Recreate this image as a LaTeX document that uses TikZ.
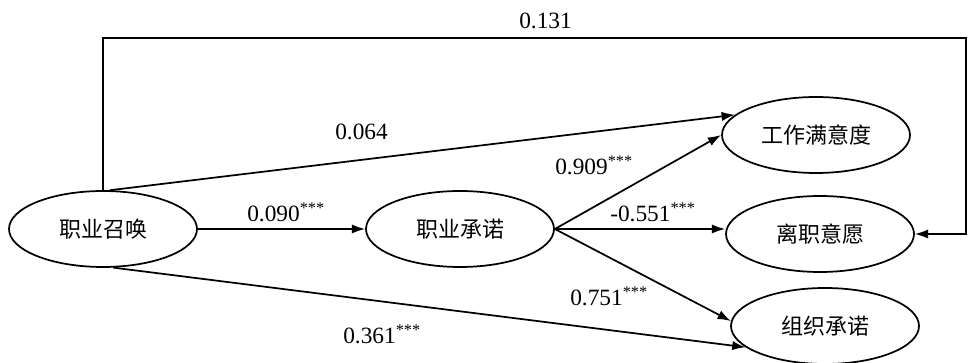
\documentclass[tikz,border=0pt]{standalone}
\usepackage{fontspec}
\setmainfont{Liberation Serif}
\newfontfamily\cjk{Noto Sans CJK SC}
\usetikzlibrary{shapes.geometric,arrows.meta}
\tikzset{
  var/.style={ellipse,draw,line width=1.3pt,minimum width=141pt,minimum height=57pt,inner sep=0pt,font=\cjk\fontsize{16.5}{18}\selectfont},
  path/.style={line width=1.3pt},
  arr/.style={path,-{Latex[length=10pt,width=7pt]}},
  coef/.style={anchor=base west,inner sep=0pt,font=\fontsize{17.5}{19}\selectfont}
}
\begin{document}
\begin{tikzpicture}[x=0.75pt,y=-0.75pt]
\useasboundingbox (0,0) rectangle (968,363);
\node[var] (e1) at (103,229) {职业召唤};
\node[var] (e2) at (460,229) {职业承诺};
\node[var] (e3) at (816,135) {工作满意度};
\node[var] (e4) at (820,234) {离职意愿};
\node[var] (e5) at (825,326) {组织承诺};
\coordinate (tr) at (966,38);
\draw[arr] (e1.north) |- (tr) |- (e4.east);
\draw[arr] (e1.80) -- (e3.166);
\draw[arr] (e1.east) -- (e2.west);
\draw[arr] (e1.-75) -- (e5.195);
\draw[arr] (e2.east) -- (e3.west);
\draw[arr] (e2.east) -- (e4.west |- e2.east);
\draw[arr] (e2.east) -- (e5.177);
\node[coef] (l1) at (519,29) {0.131};
\node[coef] (l2) at (335,140) {0.064};
\node[coef] (l3) at (247,222) {0.090\textsuperscript{***}};
\node[coef] (l4) at (343,344) {0.361\textsuperscript{***}};
\node[coef] (l5) at (555,175) {0.909\textsuperscript{***}};
\node[coef] (l6) at (610,222) {-0.551\textsuperscript{***}};
\node[coef] (l7) at (570,306) {0.751\textsuperscript{***}};
\end{tikzpicture}
\end{document}
